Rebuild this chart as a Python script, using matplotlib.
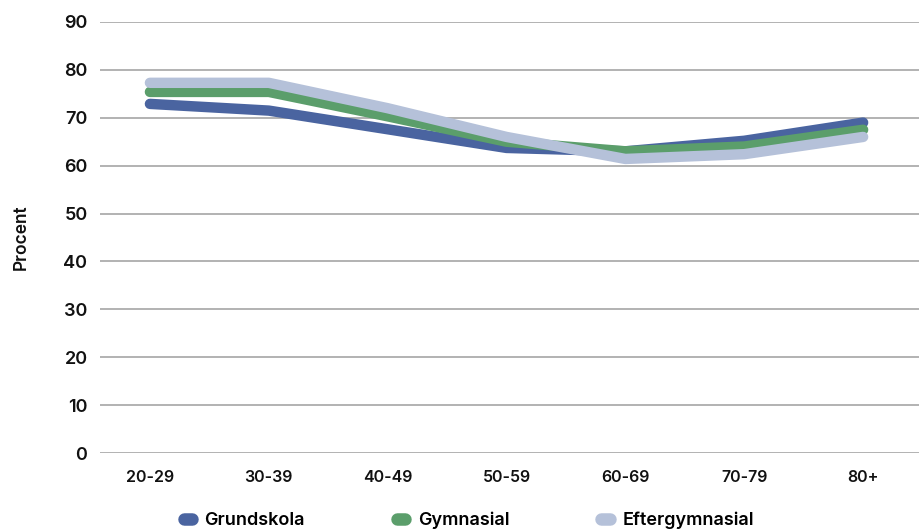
import matplotlib.pyplot as plt
from matplotlib.lines import Line2D

plt.rcParams['font.family'] = ['Inter', 'DejaVu Sans']
plt.rcParams['font.weight'] = 'semibold'

age_groups = ["20-29", "30-39", "40-49", "50-59", "60-69", "70-79", "80+"]
grundskola = [72.9, 71.5, 67.6, 63.7, 63.0, 65.2, 69.0]
gymnasial = [75.4, 75.4, 70.3, 65.0, 63.0, 64.0, 67.5]
eftergymnasial = [77.3, 77.3, 72.0, 66.0, 61.4, 62.4, 66.0]
yticks = [0, 10, 20, 30, 40, 50, 60, 70, 80, 90]

series = [
    ("Grundskola", grundskola, "#4a64a0"),
    ("Gymnasial", gymnasial, "#5b9e6b"),
    ("Eftergymnasial", eftergymnasial, "#b5c1d9"),
]

fig = plt.figure(figsize=(9.19, 5.32), dpi=100)
ax = fig.add_axes([100 / 919, 1 - 453 / 532, 819 / 919, (453 - 22) / 532])

x = list(range(len(age_groups)))
handles = []
for name, vals, color in series:
    ax.plot(x, vals, color=color, linewidth=7.5, solid_capstyle="round",
            solid_joinstyle="round", zorder=3)
    handles.append(Line2D([0], [0], color=color, linewidth=9,
                          solid_capstyle="round", label=name))

ax.set_xlim(-0.42, 6.47)
ax.set_ylim(0, 90)
ax.set_yticks(yticks)
ax.set_xticks(x)
ax.set_xticklabels(age_groups)
ax.grid(axis="y", color="#a6a6a6", linewidth=1.2, zorder=0)
ax.set_axisbelow(True)
for s in ax.spines.values():
    s.set_visible(False)
ax.tick_params(axis="both", length=0, labelsize=11.5, colors="#111111")
ax.tick_params(axis="y", pad=9, labelsize=13)
ax.tick_params(axis="x", pad=12)
ax.set_ylabel("Procent", fontsize=12.5, color="#111111", fontweight="semibold")
ax.yaxis.set_label_coords(-70 / 819, 0.5)

fig.legend(handles=handles, loc="center", bbox_to_anchor=(0.51, 0.022),
           ncol=3, frameon=False, fontsize=13, handlelength=0.45,
           columnspacing=5.1, handletextpad=0.7)

fig.savefig("out.png", dpi=100)
